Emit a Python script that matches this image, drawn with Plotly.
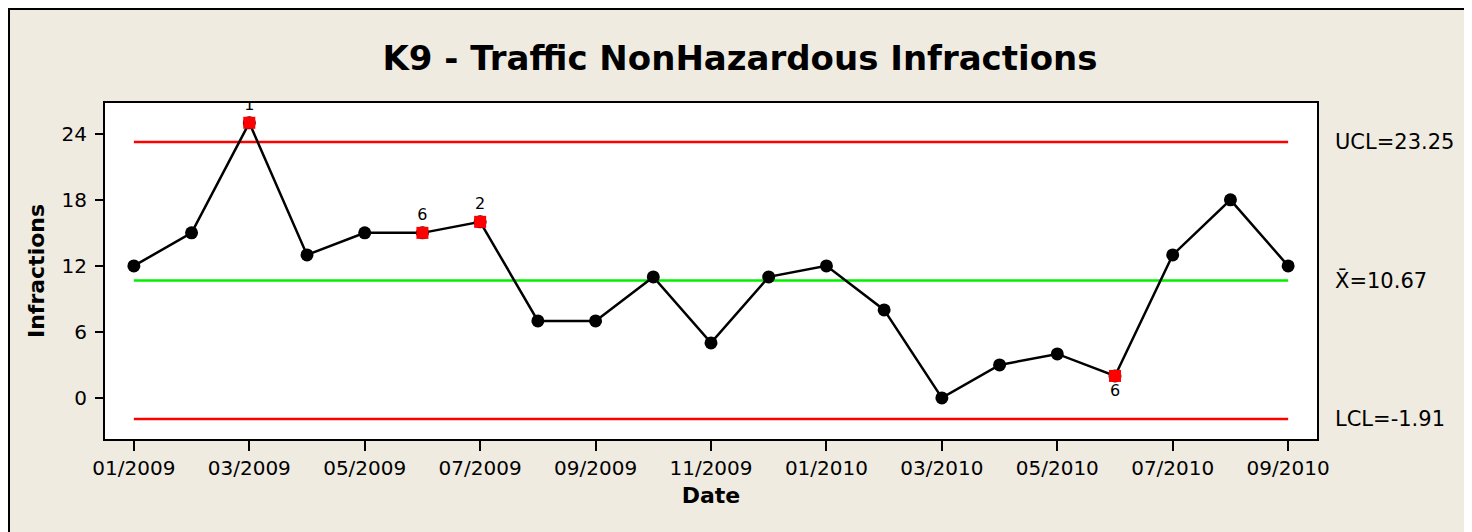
import plotly.graph_objects as go

dates = ["01/2009", "02/2009", "03/2009", "04/2009", "05/2009", "06/2009", "07/2009",
         "08/2009", "09/2009", "10/2009", "11/2009", "12/2009", "01/2010", "02/2010",
         "03/2010", "04/2010", "05/2010", "06/2010", "07/2010", "08/2010", "09/2010"]
infractions = [12, 15, 25, 13, 15, 15, 16, 7, 7, 11, 5, 11, 12, 8, 0, 3, 4, 2, 13, 18, 12]

# points failing tests, with the test number shown next to them
flag_idx = [2, 5, 6, 17]
flag_test = ["1", "6", "2", "6"]
flag_pos = ["top center", "top center", "top center", "bottom center"]

ucl = 23.25
center = 10.67
lcl = -1.91

idx = list(range(len(dates)))
flag_vals = [infractions[i] for i in flag_idx]

bg = "#EFEBE1"
font = "DejaVu Sans"

fig = go.Figure()

# control limits and centre line
for val, col in [(ucl, "#FF0000"), (center, "#00F000"), (lcl, "#FF0000")]:
    fig.add_trace(go.Scatter(x=[idx[0], idx[-1]], y=[val, val], mode="lines",
                             line=dict(color=col, width=2.5), hoverinfo="skip"))

fig.add_trace(go.Scatter(x=idx, y=infractions, mode="lines+markers",
                         line=dict(color="black", width=2.5),
                         marker=dict(color="black", size=13, symbol="circle")))

fig.add_trace(go.Scatter(x=flag_idx, y=flag_vals, mode="markers+text",
                         text=flag_test, textposition=flag_pos,
                         textfont=dict(family=font, size=16, color="black"),
                         marker=dict(color="#FF0000", size=12, symbol="square")))

# limit labels on the right
for label, val in [("UCL=23.25", ucl), ("X\u0304=10.67", center), ("LCL=-1.91", lcl)]:
    fig.add_annotation(x=1.013, y=val, xref="paper", yref="y", text=label,
                       showarrow=False, xanchor="left", yanchor="middle",
                       font=dict(family=font, size=21, color="black"))

# outer frame of the graph window
fig.add_shape(type="rect", xref="paper", yref="paper",
              x0=-0.0792, x1=1.1232, y0=-0.6, y1=1.2795,
              line=dict(color="black", width=2), fillcolor="rgba(0,0,0,0)", layer="below")

fig.update_layout(
    width=1464, height=524,
    margin=dict(l=97, r=155, t=95, b=93),
    paper_bgcolor=bg, plot_bgcolor="white",
    showlegend=False,
    title=dict(text="<b>K9 - Traffic NonHazardous Infractions</b>", x=0.5,
               xanchor="center", y=0.905, yanchor="middle",
               font=dict(family=font, size=34, color="black")),
    font=dict(family=font, color="black"),
)
fig.layout.title.xref = "container"

fig.update_xaxes(range=[-0.5, 20.5], tickmode="array",
                 tickvals=idx[::2], ticktext=dates[::2],
                 ticks="outside", ticklen=10, tickwidth=2, tickcolor="black",
                 showline=True, linecolor="black", linewidth=2, mirror=True,
                 showgrid=False, zeroline=False,
                 tickfont=dict(family=font, size=20),
                 title=dict(text="<b>Date</b>", font=dict(family=font, size=22), standoff=9))
fig.update_yaxes(range=[-3.73, 26.8], tickvals=[0, 6, 12, 18, 24],
                 ticks="outside", ticklen=8, tickwidth=2, tickcolor="black",
                 ticklabelstandoff=4,
                 showline=True, linecolor="black", linewidth=2, mirror=True,
                 showgrid=False, zeroline=False,
                 tickfont=dict(family=font, size=20),
                 title=dict(text="<b>Infractions</b>", font=dict(family=font, size=22), standoff=11))

fig.write_html("out.html")
